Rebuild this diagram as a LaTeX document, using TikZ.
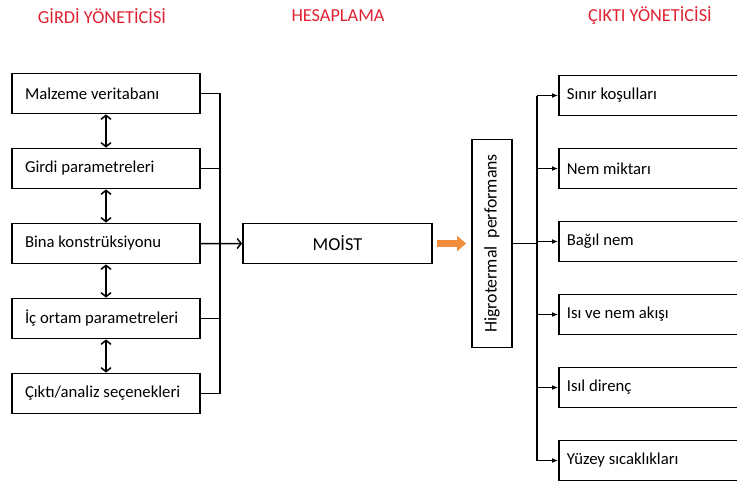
\documentclass[tikz,border=0pt]{standalone}
\usepackage{fontspec}
\setmainfont{Carlito}
\usepackage{graphicx}
\usetikzlibrary{arrows.meta, positioning, calc}
\definecolor{ttlRed}{RGB}{222,34,50}
\definecolor{flowOrange}{RGB}{241,142,62}

\begin{document}
\begin{tikzpicture}[
      x=1pt, y=1pt,
      node distance=33.2pt and 20pt,
      ttl/.style={text=ttlRed, font=\fontsize{18.3}{21}\selectfont, inner sep=0pt},
      inbox/.style={rectangle, draw, line width=1.8pt, minimum width=188pt, minimum height=40pt, text width=162pt, inner xsep=13pt, align=flush left, font=\fontsize{16.7}{19}\selectfont},
      outbox/.style={rectangle, draw, line width=1.8pt, minimum width=270pt, minimum height=40pt, text width=254pt, inner xsep=8pt, align=flush left, font=\fontsize{16.7}{19}\selectfont},
      calcbox/.style={rectangle, draw, line width=1.8pt, minimum width=189pt, minimum height=40pt, font=\fontsize{18.3}{21}\selectfont},
      perfbox/.style={rectangle, draw, line width=1.8pt, minimum width=40pt, minimum height=208pt, inner sep=0pt, font=\fontsize{17.8}{20}\selectfont},
      link/.style={line width=1.5pt},
      dbl/.style={{Straight Barb[length=4pt, width=10pt]}-{Straight Barb[length=4pt, width=10pt]}, line width=1.5pt},
      arrow/.style={-{Straight Barb[length=4pt, width=10pt]}, line width=1.5pt},
      tip/.style={-{Latex[length=6pt, width=5pt]}, line width=1.5pt},
      flow/.style={-{Triangle[length=9pt, width=15pt]}, line width=7pt, flowOrange}
  ]
      \clip (0,0) rectangle (737,-482);
      % titles
      \node[ttl] (tIn) at (102,-16) {GİRDİ YÖNETİCİSİ};
      \node[ttl] (tCalc) at (338,-16) {HESAPLAMA};
      \node[ttl] (tOut) at (650,-16) {ÇIKTI YÖNETİCİSİ};
      % input manager
      \node[inbox] (mat) at (106,-93.5) {Malzeme veritabanı};
      \node[inbox, below=of mat] (inp) {Girdi parametreleri};
      \node[inbox, below=of inp] (bld) {Bina konstrüksiyonu};
      \node[inbox, below=of bld] (ins) {İç ortam parametreleri};
      \node[inbox, below=of ins] (res) {Çıktı/analiz seçenekleri};
      % calculation
      \node[calcbox] (moist) at (337.5,-243.5) {MOİST};
      \node[perfbox] (higro) at (492,-243.5) {\rotatebox{90}{Higrotermal\ \ performans}};
      % output manager
      \node[outbox, anchor=west] (bnd) at (558,-95.5) {Sınır koşulları};
      \node[outbox, below=31.2pt of bnd] (wat) {Nem miktarı};
      \node[outbox, below=31.2pt of wat] (rh) {Bağıl nem};
      \node[outbox, below=31.2pt of rh] (flx) {Isı ve nem akışı};
      \node[outbox, below=31.2pt of flx] (rth) {Isıl direnç};
      \node[outbox, below=31.2pt of rth] (srf) {Yüzey sıcaklıkları};
      \coordinate (busIn) at (220,0);
      \coordinate (busOut) at (537,0);
      \draw[dbl] (mat) -- (inp);
      \draw[dbl] (inp) -- (bld);
      \draw[dbl] (bld) -- (ins);
      \draw[dbl] (ins) -- (res);
      \draw[link] (mat.east) -- (mat.east -| busIn) -- (res.east -| busIn) -- (res.east);
      \draw[link] (inp.east) -- (inp.east -| busIn);
      \draw[link] (ins.east) -- (ins.east -| busIn);
      \draw[arrow] (bld.east) -- (moist.west);
      \draw[flow, shorten <=4pt, shorten >=5pt] (moist.east) -- (higro.west);
      \draw[link] (higro.east) -- (higro.east -| busOut);
      \draw[link] (bnd.west -| busOut) -- (srf.west -| busOut);
      \draw[tip] (bnd.west -| busOut) -- (bnd.west);
      \draw[tip] (wat.west -| busOut) -- (wat.west);
      \draw[tip] (rh.west -| busOut) -- (rh.west);
      \draw[tip] (flx.west -| busOut) -- (flx.west);
      \draw[tip] (rth.west -| busOut) -- (rth.west);
      \draw[tip] (srf.west -| busOut) -- (srf.west);
  \end{tikzpicture}
\end{document}
